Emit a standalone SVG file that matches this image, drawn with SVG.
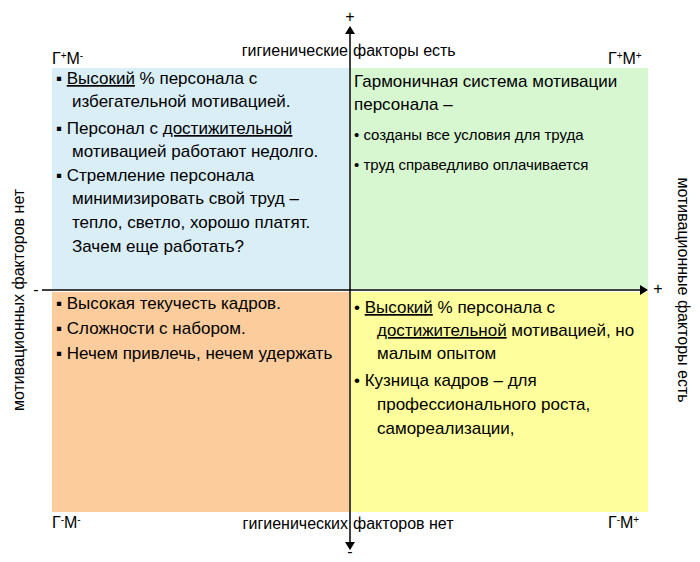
<svg xmlns="http://www.w3.org/2000/svg" width="700" height="562" viewBox="0 0 700 562">
<defs>
<style>
text{font-family:"Liberation Sans",Arial,sans-serif;fill:#000}
.t{font-size:17px}
.s{font-size:15px}
.l{font-size:16px}
</style>
<marker id="a" markerWidth="8" markerHeight="10" refX="7" refY="5" orient="auto" markerUnits="userSpaceOnUse"><path d="M0,0L8,5L0,10Z" fill="#000"/></marker>
</defs>
<rect width="700" height="562" fill="#fff"/>
<g id="q1"><rect x="52" y="68" width="297" height="221" fill="#daeef8"/>
<text class="t" x="56" y="84">▪ <tspan text-decoration="underline">Высокий</tspan> % персонала с</text>
<text class="t" x="72" y="107">избегательной мотивацией.</text>
<text class="t" x="56" y="134">▪ Персонал с <tspan text-decoration="underline">достижительной</tspan></text>
<text class="t" x="72" y="157">мотивацией работают недолго.</text>
<text class="t" x="56" y="181">▪ Стремление персонала</text>
<text class="t" x="72" y="204">минимизировать свой труд –</text>
<text class="t" x="72" y="228">тепло, светло, хорошо платят.</text>
<text class="t" x="72" y="252">Зачем еще работать?</text></g>
<g id="q2"><rect x="351" y="68" width="297" height="221" fill="#d7f7d0"/>
<text class="t" x="354" y="87">Гармоничная система мотивации</text>
<text class="t" x="354" y="110">персонала –</text>
<text class="s" x="354" y="140">•  созданы все условия для труда</text>
<text class="s" x="354" y="170">•  труд справедливо оплачивается</text></g>
<g id="q3"><rect x="52" y="292" width="297" height="220" fill="#fccc9c"/>
<text class="t" x="56" y="309">▪ Высокая текучесть кадров.</text>
<text class="t" x="56" y="334">▪ Сложности с набором.</text>
<text class="t" x="56" y="359">▪ Нечем привлечь, нечем удержать</text></g>
<g id="q4"><rect x="351" y="292" width="297" height="220" fill="#fefe9c"/>
<text class="t" x="354" y="313">•  <tspan text-decoration="underline">Высокий</tspan> % персонала с</text>
<text class="t" x="377" y="336"><tspan text-decoration="underline">достижительной</tspan> мотивацией, но</text>
<text class="t" x="377" y="359">малым опытом</text>
<text class="t" x="354" y="386">•  Кузница кадров – для</text>
<text class="t" x="377" y="410">профессионального роста,</text>
<text class="t" x="377" y="434">самореализации,</text></g>
<g id="labels">
<text class="l" x="52" y="64">Г<tspan font-size="10" dy="-5">+</tspan><tspan dy="5">М</tspan><tspan font-size="10" dy="-5">-</tspan></text>
<text class="l" x="608" y="64">Г<tspan font-size="10" dy="-5">+</tspan><tspan dy="5">М</tspan><tspan font-size="10" dy="-5">+</tspan></text>
<text class="l" x="52" y="528">Г<tspan font-size="10" dy="-5">-</tspan><tspan dy="5">М</tspan><tspan font-size="10" dy="-5">-</tspan></text>
<text class="l" x="608" y="528">Г<tspan font-size="10" dy="-5">-</tspan><tspan dy="5">М</tspan><tspan font-size="10" dy="-5">+</tspan></text>
<text class="l" x="348" y="56" text-anchor="end">гигиенические</text>
<text class="l" x="353" y="56">факторы есть</text>
<text class="l" x="348" y="529" text-anchor="end">гигиенических</text>
<text class="l" x="353" y="529">факторов нет</text>
<text class="l" transform="translate(24,300) rotate(-90)" text-anchor="middle">мотивационных факторов нет</text>
<text class="l" transform="translate(678,290) rotate(90)" text-anchor="middle">мотивационные факторы есть</text>
<text class="l" x="350" y="22" text-anchor="middle">+</text>
<text class="l" x="350" y="557" text-anchor="middle">-</text>
<text class="l" x="36" y="295" text-anchor="middle">-</text>
<text class="l" x="658" y="294" text-anchor="middle">+</text>
</g>
<g id="connectors" stroke="#000" stroke-width="1.5">
<line x1="350" y1="290" x2="350" y2="27" marker-end="url(#a)"/>
<line x1="350" y1="290" x2="350" y2="549" marker-end="url(#a)"/>
<line x1="42" y1="290" x2="647" y2="290" marker-end="url(#a)"/>
</g>
</svg>
